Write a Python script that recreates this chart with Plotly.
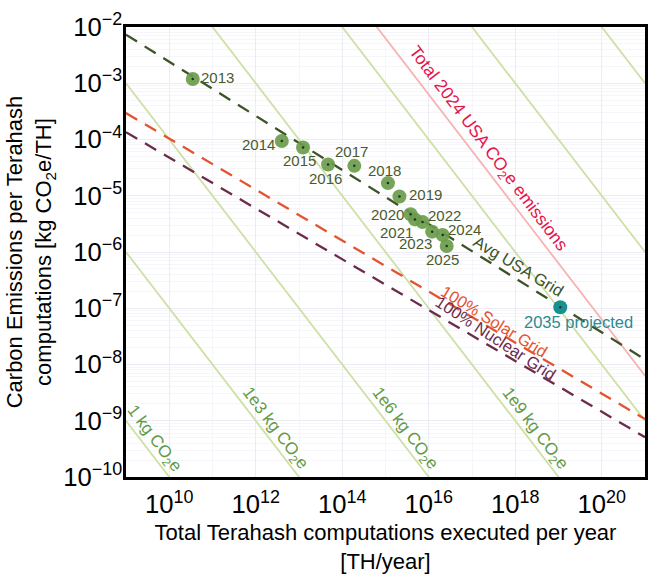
import numpy as np
import plotly.graph_objects as go

# ---------------- data ----------------
years = ["2013", "2014", "2015", "2016", "2017", "2018", "2019",
         "2020", "2021", "2022", "2023", "2024", "2025"]
th_per_year = [3.5e10, 4.0e12, 1.24e13, 4.7e13, 1.9e14, 1.14e15, 2.1e15,
               3.8e15, 4.8e15, 7.2e15, 1.2e16, 2.1e16, 2.6e16]
kg_per_th = [1.19e-3, 9.4e-5, 7.2e-5, 3.6e-5, 3.4e-5, 1.68e-5, 9.7e-6,
             4.7e-6, 3.8e-6, 3.4e-6, 2.3e-6, 2.0e-6, 1.28e-6]

proj_label = "2035 projected"
proj_th = [1.1e19]
proj_kg = [1.04e-7]

iso_kg = [1, 1e3, 1e6, 1e9, 1e12, 1e15, 1e18]
iso_labels = ["1 kg CO<sub>2</sub>e", "1e3 kg CO<sub>2</sub>e",
              "1e6 kg CO<sub>2</sub>e", "1e9 kg CO<sub>2</sub>e"]
iso_label_logy = [-9.33, -9.14, -9.14, -9.14]

usa_total_kg = 6.3e12
usa_total_label = "Total 2024 USA CO<sub>2</sub>e emissions"

grid_x = [1e9, 1e21]
avg_usa_y = [7.3e-3, 1.23e-8]
solar_y = [2.95e-4, 1.07e-9]
nuclear_y = [1.35e-4, 5.1e-10]

x_range_log = [9, 21]
y_range_log = [-10, -2]

# label offsets (pixels) for year annotations: (xshift, yshift)
year_offsets = [(25, 2), (-23, -3), (-4, -13), (-3, -14), (-3, 14), (-3, 13),
                (26, 2), (-23, 0), (-18, -13), (22, 7), (-17, -12), (22, 6),
                (-4, -14)]

FONT = "Liberation Sans, Arial, Helvetica, sans-serif"

fig = go.Figure()

# iso-emission lines
for c in iso_kg:
    xs = np.array(grid_x)
    fig.add_trace(go.Scatter(x=xs, y=c / xs, mode="lines",
                             line=dict(color="#cde0a6", width=1.8),
                             hoverinfo="skip", showlegend=False))

# total USA emissions line
xs = np.array(grid_x)
fig.add_trace(go.Scatter(x=xs, y=usa_total_kg / xs, mode="lines",
                         line=dict(color="#f6b3b1", width=1.8),
                         hoverinfo="skip", showlegend=False))

# grid lines (dashed)
fig.add_trace(go.Scatter(x=grid_x, y=solar_y, mode="lines",
                         line=dict(color="#e4532f", width=2.3, dash="13px,9px"),
                         showlegend=False))
fig.add_trace(go.Scatter(x=grid_x, y=nuclear_y, mode="lines",
                         line=dict(color="#6d2b4c", width=2.3, dash="13px,9px"),
                         showlegend=False))
fig.add_trace(go.Scatter(x=grid_x, y=avg_usa_y, mode="lines",
                         line=dict(color="#3d5226", width=2.3, dash="13px,9px"),
                         showlegend=False))

# data points
fig.add_trace(go.Scatter(x=th_per_year, y=kg_per_th, mode="markers",
                         marker=dict(size=14, color="#6a9d4b", opacity=0.92),
                         showlegend=False))
fig.add_trace(go.Scatter(x=proj_th, y=proj_kg, mode="markers",
                         marker=dict(size=14, color="#17918f"),
                         showlegend=False))
fig.add_trace(go.Scatter(x=th_per_year + proj_th, y=kg_per_th + proj_kg,
                         mode="markers",
                         marker=dict(size=2.5, color="#2a2a2a"),
                         showlegend=False))

annotations = []
for yr, xv, yv, (dx, dy) in zip(years, th_per_year, kg_per_th, year_offsets):
    annotations.append(dict(x=np.log10(xv), y=np.log10(yv), text=yr,
                            showarrow=False, xshift=dx, yshift=dy,
                            font=dict(size=15, color="#4a5a2e", family=FONT)))
annotations.append(dict(x=np.log10(proj_th[0]), y=np.log10(proj_kg[0]),
                        text=proj_label, showarrow=False, xshift=18, yshift=-15,
                        font=dict(size=16.5, color="#2e8a94", family=FONT)))

for c, lab, ly in zip(iso_kg, iso_labels, iso_label_logy):
    annotations.append(dict(x=np.log10(c) - ly, y=ly, text=lab, showarrow=False,
                            xshift=13, textangle=53,
                            font=dict(size=17, color="#5f9a45", family=FONT)))

annotations.append(dict(x=np.log10(usa_total_kg) + 4.175, y=-4.175,
                        text=usa_total_label, showarrow=False, xshift=17,
                        textangle=53,
                        font=dict(size=17.5, color="#e3164b", family=FONT)))
annotations.append(dict(x=18.08, y=-6.247, text="Avg USA Grid", showarrow=False,
                        textangle=31,
                        font=dict(size=16.5, color="#3d5226", family=FONT)))
annotations.append(dict(x=17.51, y=-7.22, text="100% Solar Grid", showarrow=False,
                        textangle=31.5,
                        font=dict(size=16.5, color="#e4532f", family=FONT)))
annotations.append(dict(x=17.55, y=-7.53, text="100% Nuclear Grid", showarrow=False,
                        textangle=33,
                        font=dict(size=16.5, color="#6d2b4c", family=FONT)))

axis_common = dict(
    type="log", showline=True, linewidth=2.5, linecolor="black", mirror=True,
    ticks="", showgrid=True, gridcolor="#ececf4", gridwidth=1, zeroline=False,
    exponentformat="power", tickfont=dict(size=20.5, color="black", family=FONT),
    minor=dict(showgrid=True, gridcolor="#f5f5fa", gridwidth=1),
)

fig.update_layout(
    width=657, height=579,
    margin=dict(l=126, r=9, t=20, b=92),
    paper_bgcolor="white", plot_bgcolor="white",
    font=dict(family=FONT, color="black"),
    showlegend=False,
    annotations=annotations,
    xaxis=dict(axis_common, range=x_range_log, dtick=2, tick0=0,
               ticklabelstandoff=4,
               title=dict(text="Total Terahash computations executed per year<br>[TH/year]",
                          font=dict(size=22, family=FONT), standoff=8)),
    yaxis=dict(axis_common, range=y_range_log, dtick=1,
               ticklabelstandoff=-3,
               title=dict(text="Carbon Emissions per Terahash<br>computations [kg CO<sub>2</sub>e/TH]",
                          font=dict(size=22, family=FONT), standoff=6)),
)

fig.write_html("out.html")
